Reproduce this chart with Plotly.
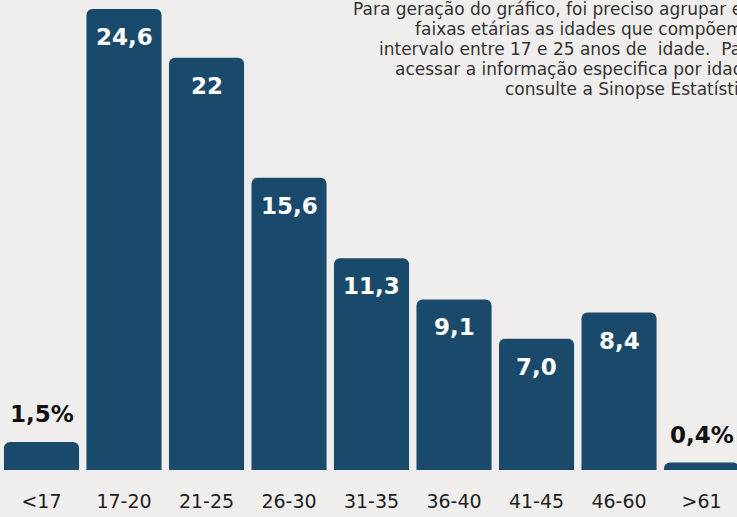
import plotly.graph_objects as go

categories = ["<17", "17-20", "21-25", "26-30", "31-35", "36-40", "41-45", "46-60", ">61"]
values = [1.5, 24.6, 22.0, 15.6, 11.3, 9.1, 7.0, 8.4, 0.4]
labels = ["1,5%", "24,6", "22", "15,6", "11,3", "9,1", "7,0", "8,4", "0,4%"]
inside = [False, True, True, True, True, True, True, True, False]

note_lines = [
    "Para geração do gráfico, foi preciso agrupar em",
    "faixas etárias as idades que compõem o",
    "intervalo entre 17 e 25 anos de  idade.  Para",
    "acessar a informação especifica por idade,",
    "consulte a Sinopse Estatística",
]

BAR = "#1a4a6b"
BG = "#efeeec"
FONT = "DejaVu Sans"

xs = list(range(len(categories)))

fig = go.Figure()
fig.add_trace(go.Bar(
    x=xs, y=values,
    marker=dict(color=BAR, cornerradius=6, line=dict(width=0)),
    width=0.91,
    hoverinfo="skip",
))

for x, v, lab, ins in zip(xs, values, labels, inside):
    fig.add_annotation(
        x=x, y=v, xref="x", yref="y", text=f"<b>{lab}</b>", showarrow=False,
        yanchor="middle", yshift=-28 if ins else 28,
        font=dict(family=FONT, size=23, color="white" if ins else "#111111"),
    )

for i, line in enumerate(note_lines):
    fig.add_annotation(
        x=1.032, y=1.0, xref="paper", yref="paper", text=line, showarrow=False,
        xanchor="right", yanchor="middle", align="right", yshift=-(9 + 20 * i),
        font=dict(family=FONT, size=17, color="#333333"),
    )

fig.update_layout(
    width=737, height=517,
    margin=dict(l=0, r=0, t=0, b=47),
    paper_bgcolor=BG, plot_bgcolor=BG,
    showlegend=False,
    xaxis=dict(
        range=[-0.503, 8.43], tickmode="array", tickvals=xs, ticktext=categories,
        showgrid=False, zeroline=False, showline=False, ticks="",
        tickfont=dict(family=FONT, size=19, color="#1e1e1e"),
        ticklabelstandoff=18,
    ),
    yaxis=dict(range=[0, 25.08], visible=False, showgrid=False, zeroline=False),
)

fig.write_html(
    "out.html",
    config={"displayModeBar": False},
    post_script="document.body.style.margin='0';document.body.style.overflow='hidden';",
)
